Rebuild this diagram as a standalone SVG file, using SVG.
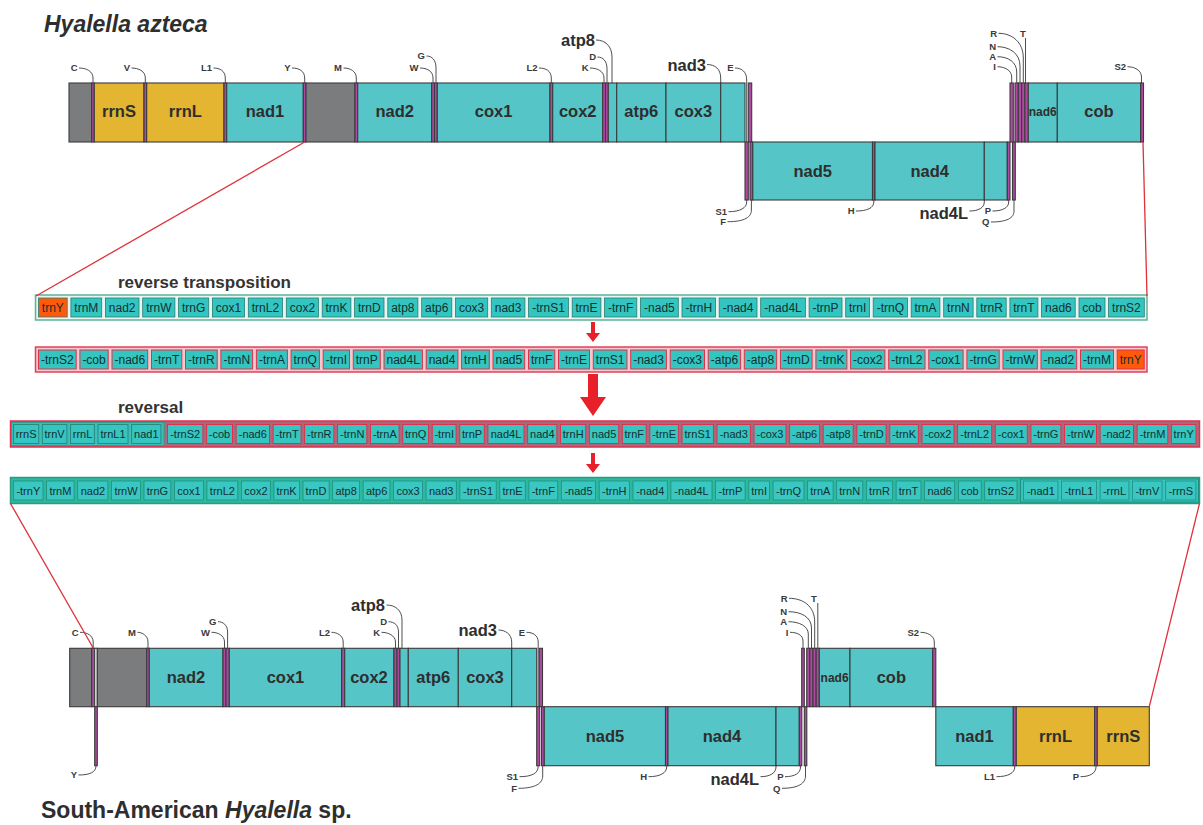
<svg xmlns="http://www.w3.org/2000/svg" width="1203" height="825" viewBox="0 0 1203 825">
<style>
text{font-family:"Liberation Sans",Arial,sans-serif;font-weight:bold}
.gm rect{stroke:#3b3b3b;stroke-width:1.1}
.teal{fill:#55c5c8}.yel{fill:#e3b531}.gry{fill:#7b7c7e}.trn{fill:#ad4aa2}.wht{fill:#fff}
.gl{font-size:16.5px;fill:#2e2e2e;text-anchor:middle}
.gs{font-size:12px;fill:#2e2e2e;text-anchor:middle}
.sl{font-size:9.5px;fill:#3a3a3a;text-anchor:end}
.sm{font-size:9.5px;fill:#3a3a3a;text-anchor:middle}
.bl{font-size:16.5px;fill:#2e2e2e;text-anchor:end}
.ld{fill:none;stroke:#3a3a3a;stroke-width:0.9}
.rl{stroke:#e0303a;stroke-width:1.3;fill:none}
.ar{fill:#e8202a}
.row text{font-weight:normal;font-size:12px;fill:#123030;text-anchor:middle}
.r34 text{font-size:11px}
.r1 rect{fill:#33c5c0;stroke:#2b7d75;stroke-width:0.8}
.r2 rect{fill:#33c5c0;stroke:#e0304c;stroke-width:1}
.r3 rect{fill:#36c5c0;stroke:#e0304c;stroke-width:1}
.r3 .tb{stroke:#2a8a80}
.r4 rect{fill:#3ac7c2;stroke:#1f8f80;stroke-width:0.8}
.r1 rect.or,.r2 rect.or{fill:#ff5a0a}
.title{font-size:23px;fill:#2e2e2e}
.hd{font-size:17px;fill:#333}
</style>

<text class="title" x="44" y="32" font-style="italic">Hyalella azteca</text>

<g id="top" class="gm">
<g id="t-nc1"><rect class="gry" x="69" y="83" width="22.7" height="59"/></g>
<g id="t-C"><rect class="trn" x="91.7" y="83" width="2.6" height="59"/><text class="sl" x="77.5" y="71.3">C</text></g>
<g id="t-rrnS"><rect class="yel" x="94.3" y="83" width="49.7" height="59"/><text class="gl" x="119" y="117">rrnS</text></g>
<g id="t-V"><rect class="trn" x="144" y="83" width="2.7" height="59"/><text class="sl" x="130" y="71.3">V</text></g>
<g id="t-rrnL"><rect class="yel" x="146.7" y="83" width="77.3" height="59"/><text class="gl" x="185.3" y="117">rrnL</text></g>
<g id="t-L1"><rect class="trn" x="224" y="83" width="2.7" height="59"/><text class="sl" x="212" y="71.3">L1</text></g>
<g id="t-nad1"><rect class="teal" x="226.7" y="83" width="76.6" height="59"/><text class="gl" x="265" y="117">nad1</text></g>
<g id="t-Y"><rect class="trn" x="303.3" y="83" width="2.7" height="59"/><text class="sl" x="290.5" y="71.3">Y</text></g>
<g id="t-nc2"><rect class="gry" x="306" y="83" width="49" height="59"/></g>
<g id="t-M"><rect class="trn" x="355" y="83" width="2.7" height="59"/><text class="sl" x="342" y="71.3">M</text></g>
<g id="t-nad2"><rect class="teal" x="357.7" y="83" width="74" height="59"/><text class="gl" x="394.7" y="117">nad2</text></g>
<g id="t-W"><rect class="trn" x="431.7" y="83" width="2.8" height="59"/><text class="sl" x="418.5" y="71.3">W</text></g>
<g id="t-G"><rect class="trn" x="434.5" y="83" width="2.8" height="59"/><text class="sl" x="425" y="59.3">G</text></g>
<g id="t-cox1"><rect class="teal" x="437.3" y="83" width="112.7" height="59"/><text class="gl" x="493.6" y="117">cox1</text></g>
<g id="t-L2"><rect class="trn" x="550" y="83" width="2.7" height="59"/><text class="sl" x="537.5" y="71.3">L2</text></g>
<g id="t-cox2"><rect class="teal" x="552.7" y="83" width="50" height="59"/><text class="gl" x="577.7" y="117">cox2</text></g>
<g id="t-K"><rect class="trn" x="602.7" y="83" width="2.8" height="59"/><text class="sl" x="588.5" y="71.3">K</text></g>
<g id="t-D"><rect class="trn" x="605.5" y="83" width="2.8" height="59"/><text class="sl" x="596" y="60.3">D</text></g>
<g id="t-atp8"><rect class="teal" x="608.3" y="83" width="8.4" height="59"/><text class="bl" x="595" y="46">atp8</text></g>
<g id="t-atp6"><rect class="teal" x="616.7" y="83" width="49.3" height="59"/><text class="gl" x="641.3" y="117">atp6</text></g>
<g id="t-cox3"><rect class="teal" x="666" y="83" width="54.7" height="59"/><text class="gl" x="693.3" y="117">cox3</text></g>
<g id="t-nad3"><rect class="teal" x="720.7" y="83" width="24.3" height="59"/><text class="bl" x="706" y="70.5">nad3</text></g>
<g id="t-E"><rect class="trn" x="748.3" y="83" width="3.4" height="59"/><text class="sl" x="733.5" y="71.3">E</text></g>
<g id="t-S1"><rect class="trn" x="745" y="142" width="3.3" height="58"/><text class="sl" x="727" y="215">S1</text></g>
<g id="t-F"><rect class="trn" x="750" y="142" width="2.8" height="58"/><text class="sl" x="726" y="225">F</text></g>
<g id="t-nad5"><rect class="teal" x="752.8" y="142" width="119.7" height="58"/><text class="gl" x="812.7" y="176.5">nad5</text></g>
<g id="t-H"><rect class="trn" x="872.5" y="142" width="2.5" height="58"/><text class="sl" x="854.5" y="214.3">H</text></g>
<g id="t-nad4"><rect class="teal" x="875" y="142" width="109.3" height="58"/><text class="gl" x="929.7" y="176.5">nad4</text></g>
<g id="t-nad4L"><rect class="teal" x="984.3" y="142" width="23" height="58"/><text class="bl" x="968" y="218.5">nad4L</text></g>
<g id="t-P"><rect class="trn" x="1007.3" y="142" width="2.7" height="58"/><text class="sl" x="991" y="214.3">P</text></g>
<g id="t-Q"><rect class="trn" x="1012.5" y="142" width="2.8" height="58"/><text class="sl" x="989.5" y="225.3">Q</text></g>
<g id="t-I"><rect class="trn" x="1010" y="83" width="3.3" height="59"/><text class="sl" x="996" y="70">I</text></g>
<g id="t-A"><rect class="trn" x="1015" y="83" width="3.3" height="59"/><text class="sl" x="996" y="60">A</text></g>
<g id="t-N"><rect class="trn" x="1018.3" y="83" width="3.3" height="59"/><text class="sl" x="996" y="50">N</text></g>
<g id="t-R"><rect class="trn" x="1021.6" y="83" width="3.3" height="59"/><text class="sl" x="997" y="36.6">R</text></g>
<g id="t-T"><rect class="trn" x="1024.9" y="83" width="3.4" height="59"/><text class="sm" x="1023" y="36.6">T</text></g>
<g id="t-nad6"><rect class="teal" x="1028.3" y="83" width="29" height="59"/><text class="gs" x="1042.8" y="115.5">nad6</text></g>
<g id="t-cob"><rect class="teal" x="1057.3" y="83" width="83.4" height="59"/><text class="gl" x="1099" y="117">cob</text></g>
<g id="t-S2"><rect class="trn" x="1140.7" y="83" width="2.8" height="59"/><text class="sl" x="1126" y="70">S2</text></g>
</g>

<text class="hd" x="118" y="288">reverse transposition</text>
<text class="hd" x="118" y="413">reversal</text>

<g id="row1" class="row r1">
<rect x="35.5" y="295" width="1111.5" height="25" style="fill:#eaf5f1;stroke:#58b595;stroke-width:1.5"/>
<g id="r1b1"><rect class="or" x="38.5" y="298" width="28.7" height="19"/><text x="52.85" y="311.7">trnY</text></g>
<g id="r1b2"><rect x="70.9" y="298" width="30.8" height="19"/><text x="86.3" y="311.7">trnM</text></g>
<g id="r1b3"><rect x="105.4" y="298" width="33.6" height="19"/><text x="122.2" y="311.7">nad2</text></g>
<g id="r1b4"><rect x="142.7" y="298" width="32.2" height="19"/><text x="158.8" y="311.7">trnW</text></g>
<g id="r1b5"><rect x="178.6" y="298" width="30.1" height="19"/><text x="193.65" y="311.7">trnG</text></g>
<g id="r1b6"><rect x="212.4" y="298" width="32.2" height="19"/><text x="228.5" y="311.7">cox1</text></g>
<g id="r1b7"><rect x="248.3" y="298" width="34.3" height="19"/><text x="265.45" y="311.7">trnL2</text></g>
<g id="r1b8"><rect x="286.3" y="298" width="32.2" height="19"/><text x="302.4" y="311.7">cox2</text></g>
<g id="r1b9"><rect x="322.2" y="298" width="28.7" height="19"/><text x="336.55" y="311.7">trnK</text></g>
<g id="r1b10"><rect x="354.6" y="298" width="29.4" height="19"/><text x="369.3" y="311.7">trnD</text></g>
<g id="r1b11"><rect x="387.8" y="298" width="30.1" height="19"/><text x="402.85" y="311.7">atp8</text></g>
<g id="r1b12"><rect x="421.7" y="298" width="30.1" height="19"/><text x="436.75" y="311.7">atp6</text></g>
<g id="r1b13"><rect x="455.5" y="298" width="32.2" height="19"/><text x="471.6" y="311.7">cox3</text></g>
<g id="r1b14"><rect x="491.3" y="298" width="33.6" height="19"/><text x="508.1" y="311.7">nad3</text></g>
<g id="r1b15"><rect x="528.6" y="298" width="39.8" height="19"/><text x="548.5" y="311.7">-trnS1</text></g>
<g id="r1b16"><rect x="572.2" y="298" width="28.7" height="19"/><text x="586.55" y="311.7">trnE</text></g>
<g id="r1b17"><rect x="604.6" y="298" width="32.2" height="19"/><text x="620.7" y="311.7">-trnF</text></g>
<g id="r1b18"><rect x="640.5" y="298" width="37.8" height="19"/><text x="659.4" y="311.7">-nad5</text></g>
<g id="r1b19"><rect x="682" y="298" width="33.6" height="19"/><text x="698.8" y="311.7">-trnH</text></g>
<g id="r1b20"><rect x="719.2" y="298" width="37.8" height="19"/><text x="738.1" y="311.7">-nad4</text></g>
<g id="r1b21"><rect x="760.7" y="298" width="44.7" height="19"/><text x="783.05" y="311.7">-nad4L</text></g>
<g id="r1b22"><rect x="809.1" y="298" width="32.9" height="19"/><text x="825.55" y="311.7">-trnP</text></g>
<g id="r1b23"><rect x="845.7" y="298" width="23.9" height="19"/><text x="857.65" y="311.7">trnI</text></g>
<g id="r1b24"><rect x="873.2" y="298" width="34.3" height="19"/><text x="890.35" y="311.7">-trnQ</text></g>
<g id="r1b25"><rect x="911.2" y="298" width="28.7" height="19"/><text x="925.55" y="311.7">trnA</text></g>
<g id="r1b26"><rect x="943.7" y="298" width="29.4" height="19"/><text x="958.4" y="311.7">trnN</text></g>
<g id="r1b27"><rect x="976.8" y="298" width="29.4" height="19"/><text x="991.5" y="311.7">trnR</text></g>
<g id="r1b28"><rect x="1009.9" y="298" width="28" height="19"/><text x="1023.9" y="311.7">trnT</text></g>
<g id="r1b29"><rect x="1041.6" y="298" width="33.6" height="19"/><text x="1058.4" y="311.7">nad6</text></g>
<g id="r1b30"><rect x="1079" y="298" width="26" height="19"/><text x="1092" y="311.7">cob</text></g>
<g id="r1b31"><rect x="1108.6" y="298" width="35.7" height="19"/><text x="1126.45" y="311.7">trnS2</text></g>
</g>

<g id="row2" class="row r2">
<rect x="35.5" y="347" width="1111.5" height="25" style="fill:#f5c8ce;stroke:#e2405a;stroke-width:1.5"/>
<g id="r2b1"><rect x="38.5" y="350" width="37.7" height="19"/><text x="57.35" y="363.7">-trnS2</text></g>
<g id="r2b2"><rect x="79.9" y="350" width="28.3" height="19"/><text x="94.05" y="363.7">-cob</text></g>
<g id="r2b3"><rect x="112" y="350" width="35.7" height="19"/><text x="129.85" y="363.7">-nad6</text></g>
<g id="r2b4"><rect x="151.5" y="350" width="30.3" height="19"/><text x="166.65" y="363.7">-trnT</text></g>
<g id="r2b5"><rect x="185.5" y="350" width="31.7" height="19"/><text x="201.35" y="363.7">-trnR</text></g>
<g id="r2b6"><rect x="220.9" y="350" width="31.7" height="19"/><text x="236.75" y="363.7">-trnN</text></g>
<g id="r2b7"><rect x="256.4" y="350" width="31" height="19"/><text x="271.9" y="363.7">-trnA</text></g>
<g id="r2b8"><rect x="291.1" y="350" width="28.3" height="19"/><text x="305.25" y="363.7">trnQ</text></g>
<g id="r2b9"><rect x="323.2" y="350" width="26.3" height="19"/><text x="336.35" y="363.7">-trnI</text></g>
<g id="r2b10"><rect x="353.3" y="350" width="27" height="19"/><text x="366.8" y="363.7">trnP</text></g>
<g id="r2b11"><rect x="384" y="350" width="38.4" height="19"/><text x="403.2" y="363.7">nad4L</text></g>
<g id="r2b12"><rect x="426.2" y="350" width="31.7" height="19"/><text x="442.05" y="363.7">nad4</text></g>
<g id="r2b13"><rect x="461.6" y="350" width="27.7" height="19"/><text x="475.45" y="363.7">trnH</text></g>
<g id="r2b14"><rect x="493" y="350" width="31.7" height="19"/><text x="508.85" y="363.7">nad5</text></g>
<g id="r2b15"><rect x="528.5" y="350" width="26.3" height="19"/><text x="541.65" y="363.7">trnF</text></g>
<g id="r2b16"><rect x="558.5" y="350" width="31" height="19"/><text x="574" y="363.7">-trnE</text></g>
<g id="r2b17"><rect x="593.3" y="350" width="33.7" height="19"/><text x="610.15" y="363.7">trnS1</text></g>
<g id="r2b18"><rect x="630.7" y="350" width="35.7" height="19"/><text x="648.55" y="363.7">-nad3</text></g>
<g id="r2b19"><rect x="670.2" y="350" width="34.3" height="19"/><text x="687.35" y="363.7">-cox3</text></g>
<g id="r2b20"><rect x="708.2" y="350" width="32.4" height="19"/><text x="724.4" y="363.7">-atp6</text></g>
<g id="r2b21"><rect x="744.3" y="350" width="32.4" height="19"/><text x="760.5" y="363.7">-atp8</text></g>
<g id="r2b22"><rect x="780.4" y="350" width="31.7" height="19"/><text x="796.25" y="363.7">-trnD</text></g>
<g id="r2b23"><rect x="815.9" y="350" width="31" height="19"/><text x="831.4" y="363.7">-trnK</text></g>
<g id="r2b24"><rect x="850.6" y="350" width="34.3" height="19"/><text x="867.75" y="363.7">-cox2</text></g>
<g id="r2b25"><rect x="888.7" y="350" width="36.3" height="19"/><text x="906.85" y="363.7">-trnL2</text></g>
<g id="r2b26"><rect x="928.8" y="350" width="34.3" height="19"/><text x="945.95" y="363.7">-cox1</text></g>
<g id="r2b27"><rect x="966.9" y="350" width="32.3" height="19"/><text x="983.05" y="363.7">-trnG</text></g>
<g id="r2b28"><rect x="1003" y="350" width="34.3" height="19"/><text x="1020.15" y="363.7">-trnW</text></g>
<g id="r2b29"><rect x="1041" y="350" width="35.7" height="19"/><text x="1058.85" y="363.7">-nad2</text></g>
<g id="r2b30"><rect x="1080.5" y="350" width="33" height="19"/><text x="1097" y="363.7">-trnM</text></g>
<g id="r2b31"><rect class="or" x="1117.2" y="350" width="27" height="19"/><text x="1130.7" y="363.7">trnY</text></g>
</g>

<g id="row3" class="row r3 r34">
<rect x="10.5" y="421" width="1189" height="26" style="fill:#a8697c;stroke:#e0304c;stroke-width:1.5"/>
<rect x="11.5" y="422.5" width="152.5" height="23" style="fill:#3cbfb8;stroke:#2aa090;stroke-width:1"/>
<g id="r3b1"><rect class="tb" x="13.5" y="424.5" width="25.25" height="19"/><text x="26.1" y="438">rrnS</text></g>
<g id="r3b2"><rect class="tb" x="42.35" y="424.5" width="24.57" height="19"/><text x="54.6" y="438">trnV</text></g>
<g id="r3b3"><rect class="tb" x="70.52" y="424.5" width="23.89" height="19"/><text x="82.5" y="438">rrnL</text></g>
<g id="r3b4"><rect class="tb" x="98" y="424.5" width="30" height="19"/><text x="113" y="438">trnL1</text></g>
<g id="r3b5"><rect class="tb" x="131.6" y="424.5" width="29.33" height="19"/><text x="146.3" y="438">nad1</text></g>
<g id="r3b6"><rect x="167.5" y="424.5" width="35.4" height="19"/><text x="185.2" y="438">-trnS2</text></g>
<g id="r3b7"><rect x="206.6" y="424.5" width="25.9" height="19"/><text x="219.5" y="438">-cob</text></g>
<g id="r3b8"><rect x="236.1" y="424.5" width="33.4" height="19"/><text x="252.8" y="438">-nad6</text></g>
<g id="r3b9"><rect x="273.1" y="424.5" width="27.95" height="19"/><text x="287.1" y="438">-trnT</text></g>
<g id="r3b10"><rect x="304.6" y="424.5" width="29.3" height="19"/><text x="319.3" y="438">-trnR</text></g>
<g id="r3b11"><rect x="337.55" y="424.5" width="29.3" height="19"/><text x="352.2" y="438">-trnN</text></g>
<g id="r3b12"><rect x="370.5" y="424.5" width="28.6" height="19"/><text x="384.8" y="438">-trnA</text></g>
<g id="r3b13"><rect x="402.7" y="424.5" width="25.9" height="19"/><text x="415.7" y="438">trnQ</text></g>
<g id="r3b14"><rect x="432.2" y="424.5" width="23.9" height="19"/><text x="444.2" y="438">-trnI</text></g>
<g id="r3b15"><rect x="459.7" y="424.5" width="24.6" height="19"/><text x="472" y="438">trnP</text></g>
<g id="r3b16"><rect x="487.9" y="424.5" width="36.1" height="19"/><text x="506" y="438">nad4L</text></g>
<g id="r3b17"><rect x="527.6" y="424.5" width="29.3" height="19"/><text x="542.3" y="438">nad4</text></g>
<g id="r3b18"><rect x="560.5" y="424.5" width="25.25" height="19"/><text x="573.2" y="438">trnH</text></g>
<g id="r3b19"><rect x="589.4" y="424.5" width="29.3" height="19"/><text x="604.1" y="438">nad5</text></g>
<g id="r3b20"><rect x="622.3" y="424.5" width="23.9" height="19"/><text x="634.3" y="438">trnF</text></g>
<g id="r3b21"><rect x="649.8" y="424.5" width="28.6" height="19"/><text x="664.1" y="438">-trnE</text></g>
<g id="r3b22"><rect x="682.05" y="424.5" width="31.4" height="19"/><text x="697.7" y="438">trnS1</text></g>
<g id="r3b23"><rect x="717" y="424.5" width="33.4" height="19"/><text x="733.7" y="438">-nad3</text></g>
<g id="r3b24"><rect x="754" y="424.5" width="32" height="19"/><text x="770" y="438">-cox3</text></g>
<g id="r3b25"><rect x="789.6" y="424.5" width="30" height="19"/><text x="804.6" y="438">-atp6</text></g>
<g id="r3b26"><rect x="823.2" y="424.5" width="30" height="19"/><text x="838.2" y="438">-atp8</text></g>
<g id="r3b27"><rect x="856.8" y="424.5" width="29.3" height="19"/><text x="871.5" y="438">-trnD</text></g>
<g id="r3b28"><rect x="889.75" y="424.5" width="28.6" height="19"/><text x="904.1" y="438">-trnK</text></g>
<g id="r3b29"><rect x="922" y="424.5" width="32" height="19"/><text x="938" y="438">-cox2</text></g>
<g id="r3b30"><rect x="957.6" y="424.5" width="34.1" height="19"/><text x="974.7" y="438">-trnL2</text></g>
<g id="r3b31"><rect x="995.3" y="424.5" width="32" height="19"/><text x="1011.3" y="438">-cox1</text></g>
<g id="r3b32"><rect x="1030.9" y="424.5" width="30" height="19"/><text x="1045.9" y="438">-trnG</text></g>
<g id="r3b33"><rect x="1064.5" y="424.5" width="32" height="19"/><text x="1080.5" y="438">-trnW</text></g>
<g id="r3b34"><rect x="1100.1" y="424.5" width="33.4" height="19"/><text x="1116.8" y="438">-nad2</text></g>
<g id="r3b35"><rect x="1137.1" y="424.5" width="30.7" height="19"/><text x="1152.5" y="438">-trnM</text></g>
<g id="r3b36"><rect x="1171.4" y="424.5" width="24.6" height="19"/><text x="1183.7" y="438">trnY</text></g>
</g>

<g id="row4" class="row r4 r34">
<rect x="10.5" y="477.5" width="1189" height="26" style="fill:#2db89f;stroke:#2a9a80;stroke-width:1.5"/>
<rect x="1020.5" y="479" width="178" height="23" style="fill:#38c4bc;stroke:#1e8f80;stroke-width:1"/>
<g id="r4b1"><rect x="13.5" y="481" width="29.5" height="19"/><text x="28.3" y="494.5">-trnY</text></g>
<g id="r4b2"><rect x="46.6" y="481" width="27.5" height="19"/><text x="60.4" y="494.5">trnM</text></g>
<g id="r4b3"><rect x="77.7" y="481" width="30.2" height="19"/><text x="92.9" y="494.5">nad2</text></g>
<g id="r4b4"><rect x="111.6" y="481" width="28.85" height="19"/><text x="126" y="494.5">trnW</text></g>
<g id="r4b5"><rect x="144" y="481" width="26.8" height="19"/><text x="157.4" y="494.5">trnG</text></g>
<g id="r4b6"><rect x="174.45" y="481" width="28.9" height="19"/><text x="188.9" y="494.5">cox1</text></g>
<g id="r4b7"><rect x="206.9" y="481" width="30.9" height="19"/><text x="222.4" y="494.5">trnL2</text></g>
<g id="r4b8"><rect x="241.4" y="481" width="28.9" height="19"/><text x="255.9" y="494.5">cox2</text></g>
<g id="r4b9"><rect x="273.9" y="481" width="25.5" height="19"/><text x="286.6" y="494.5">trnK</text></g>
<g id="r4b10"><rect x="303" y="481" width="26.15" height="19"/><text x="316" y="494.5">trnD</text></g>
<g id="r4b11"><rect x="332.7" y="481" width="26.8" height="19"/><text x="346.1" y="494.5">atp8</text></g>
<g id="r4b12"><rect x="363.15" y="481" width="26.8" height="19"/><text x="376.6" y="494.5">atp6</text></g>
<g id="r4b13"><rect x="393.6" y="481" width="28.9" height="19"/><text x="408" y="494.5">cox3</text></g>
<g id="r4b14"><rect x="426.1" y="481" width="30.2" height="19"/><text x="441.2" y="494.5">nad3</text></g>
<g id="r4b15"><rect x="459.9" y="481" width="36.3" height="19"/><text x="478.05" y="494.5">-trnS1</text></g>
<g id="r4b16"><rect x="499.8" y="481" width="25.5" height="19"/><text x="512.5" y="494.5">trnE</text></g>
<g id="r4b17"><rect x="528.9" y="481" width="28.85" height="19"/><text x="543.3" y="494.5">-trnF</text></g>
<g id="r4b18"><rect x="561.3" y="481" width="34.3" height="19"/><text x="578.5" y="494.5">-nad5</text></g>
<g id="r4b19"><rect x="599.2" y="481" width="30.2" height="19"/><text x="614.3" y="494.5">-trnH</text></g>
<g id="r4b20"><rect x="633" y="481" width="34.3" height="19"/><text x="650.2" y="494.5">-nad4</text></g>
<g id="r4b21"><rect x="670.9" y="481" width="41.1" height="19"/><text x="691.5" y="494.5">-nad4L</text></g>
<g id="r4b22"><rect x="715.6" y="481" width="29.5" height="19"/><text x="730.4" y="494.5">-trnP</text></g>
<g id="r4b23"><rect x="748.8" y="481" width="20.7" height="19"/><text x="759.1" y="494.5">trnI</text></g>
<g id="r4b24"><rect x="773.1" y="481" width="30.9" height="19"/><text x="788.5" y="494.5">-trnQ</text></g>
<g id="r4b25"><rect x="807.6" y="481" width="25.5" height="19"/><text x="820.3" y="494.5">trnA</text></g>
<g id="r4b26"><rect x="836.65" y="481" width="26.15" height="19"/><text x="849.7" y="494.5">trnN</text></g>
<g id="r4b27"><rect x="866.4" y="481" width="26.15" height="19"/><text x="879.5" y="494.5">trnR</text></g>
<g id="r4b28"><rect x="896.15" y="481" width="24.8" height="19"/><text x="908.55" y="494.5">trnT</text></g>
<g id="r4b29"><rect x="924.5" y="481" width="30.2" height="19"/><text x="939.7" y="494.5">nad6</text></g>
<g id="r4b30"><rect x="958.4" y="481" width="22.8" height="19"/><text x="969.8" y="494.5">cob</text></g>
<g id="r4b31"><rect x="984.7" y="481" width="32.3" height="19"/><text x="1000.9" y="494.5">trnS2</text></g>
<g id="r4b32"><rect x="1023.6" y="481" width="34.3" height="19"/><text x="1040.75" y="494.5">-nad1</text></g>
<g id="r4b33"><rect x="1061.5" y="481" width="35" height="19"/><text x="1079" y="494.5">-trnL1</text></g>
<g id="r4b34"><rect x="1100.1" y="481" width="28.85" height="19"/><text x="1114.5" y="494.5">-rrnL</text></g>
<g id="r4b35"><rect x="1132.5" y="481" width="29.5" height="19"/><text x="1147.3" y="494.5">-trnV</text></g>
<g id="r4b36"><rect x="1165.7" y="481" width="30.2" height="19"/><text x="1180.8" y="494.5">-rrnS</text></g>
</g>

<g id="bottom" class="gm">
<g id="b-nc1"><rect class="gry" x="69.7" y="648.3" width="22" height="58.4"/></g>
<g id="b-C"><rect class="trn" x="91.7" y="648.3" width="3" height="58.4"/><text class="sl" x="78.5" y="635.6">C</text></g>
<g id="b-gap"><rect class="wht" x="94.7" y="648.3" width="2.6" height="58.4"/></g>
<g id="b-nc2"><rect class="gry" x="97.3" y="648.3" width="49.4" height="58.4"/></g>
<g id="b-M"><rect class="trn" x="146.7" y="648.3" width="2.6" height="58.4"/><text class="sl" x="136" y="635.6">M</text></g>
<g id="b-nad2"><rect class="teal" x="149.3" y="648.3" width="73.7" height="58.4"/><text class="gl" x="186" y="683">nad2</text></g>
<g id="b-W"><rect class="trn" x="223" y="648.3" width="3" height="58.4"/><text class="sl" x="210" y="635.6">W</text></g>
<g id="b-G"><rect class="trn" x="226" y="648.3" width="3.3" height="58.4"/><text class="sl" x="216.5" y="625">G</text></g>
<g id="b-cox1"><rect class="teal" x="229.3" y="648.3" width="112.4" height="58.4"/><text class="gl" x="285.5" y="683">cox1</text></g>
<g id="b-L2"><rect class="trn" x="341.7" y="648.3" width="3" height="58.4"/><text class="sl" x="330" y="635.6">L2</text></g>
<g id="b-cox2"><rect class="teal" x="344.7" y="648.3" width="49.3" height="58.4"/><text class="gl" x="369" y="683">cox2</text></g>
<g id="b-K"><rect class="trn" x="394" y="648.3" width="3" height="58.4"/><text class="sl" x="380" y="635.6">K</text></g>
<g id="b-D"><rect class="trn" x="397" y="648.3" width="3" height="58.4"/><text class="sl" x="387" y="625">D</text></g>
<g id="b-atp8"><rect class="teal" x="400" y="648.3" width="8.3" height="58.4"/><text class="bl" x="385" y="611">atp8</text></g>
<g id="b-atp6"><rect class="teal" x="408.3" y="648.3" width="50" height="58.4"/><text class="gl" x="433.3" y="683">atp6</text></g>
<g id="b-cox3"><rect class="teal" x="458.3" y="648.3" width="53.4" height="58.4"/><text class="gl" x="485" y="683">cox3</text></g>
<g id="b-nad3"><rect class="teal" x="511.7" y="648.3" width="25" height="58.4"/><text class="bl" x="497" y="636">nad3</text></g>
<g id="b-E"><rect class="trn" x="539.3" y="648.3" width="3.2" height="58.4"/><text class="sl" x="525" y="635.6">E</text></g>
<g id="b-Y"><rect class="trn" x="94.7" y="706.7" width="2.6" height="59"/><text class="sl" x="77" y="778.3">Y</text></g>
<g id="b-S1"><rect class="trn" x="536.7" y="706.7" width="3" height="59"/><text class="sl" x="518" y="780">S1</text></g>
<g id="b-F"><rect class="trn" x="541.5" y="706.7" width="2.8" height="59"/><text class="sl" x="517" y="791.6">F</text></g>
<g id="b-nad5"><rect class="teal" x="544.3" y="706.7" width="121.2" height="59"/><text class="gl" x="605" y="742">nad5</text></g>
<g id="b-H"><rect class="trn" x="665.5" y="706.7" width="2.5" height="59"/><text class="sl" x="647" y="780">H</text></g>
<g id="b-nad4"><rect class="teal" x="668" y="706.7" width="108" height="59"/><text class="gl" x="722" y="742">nad4</text></g>
<g id="b-nad4L"><rect class="teal" x="776" y="706.7" width="23.3" height="59"/><text class="bl" x="759" y="784.5">nad4L</text></g>
<g id="b-P"><rect class="trn" x="799.3" y="706.7" width="2.5" height="59"/><text class="sl" x="783.5" y="780">P</text></g>
<g id="b-Q"><rect class="trn" x="804.3" y="706.7" width="2.5" height="59"/><text class="sl" x="780.5" y="791.6">Q</text></g>
<g id="b-I"><rect class="trn" x="801.7" y="648.3" width="2.6" height="58.4"/><text class="sl" x="788.5" y="635.6">I</text></g>
<g id="b-A"><rect class="trn" x="806.7" y="648.3" width="3.15" height="58.4"/><text class="sl" x="787" y="625">A</text></g>
<g id="b-N"><rect class="trn" x="809.85" y="648.3" width="3.15" height="58.4"/><text class="sl" x="787" y="615">N</text></g>
<g id="b-R"><rect class="trn" x="813" y="648.3" width="3.15" height="58.4"/><text class="sl" x="787.5" y="601.6">R</text></g>
<g id="b-T"><rect class="trn" x="816.15" y="648.3" width="3.15" height="58.4"/><text class="sm" x="814" y="601.6">T</text></g>
<g id="b-nad6"><rect class="teal" x="819.3" y="648.3" width="30.7" height="58.4"/><text class="gs" x="834.6" y="681.5">nad6</text></g>
<g id="b-cob"><rect class="teal" x="850" y="648.3" width="82.7" height="58.4"/><text class="gl" x="891.3" y="683">cob</text></g>
<g id="b-S2"><rect class="trn" x="932.7" y="648.3" width="3.1" height="58.4"/><text class="sl" x="919" y="635.6">S2</text></g>
<g id="b-nad1"><rect class="teal" x="935.8" y="706.7" width="77.5" height="59"/><text class="gl" x="974.5" y="742">nad1</text></g>
<g id="b-L1"><rect class="trn" x="1013.3" y="706.7" width="3" height="59"/><text class="sl" x="995" y="780">L1</text></g>
<g id="b-rrnL"><rect class="yel" x="1016.3" y="706.7" width="78.4" height="59"/><text class="gl" x="1055.5" y="742">rrnL</text></g>
<g id="b-P2"><rect class="trn" x="1094.7" y="706.7" width="2.6" height="59"/><text class="sl" x="1079" y="780">P</text></g>
<g id="b-rrnS"><rect class="yel" x="1097.3" y="706.7" width="52" height="59"/><text class="gl" x="1123.3" y="742">rrnS</text></g>
</g>

<text class="title" x="41" y="818">South-American <tspan font-style="italic">Hyalella</tspan> sp.</text>

<g id="connectors">
<g class="ld">
<path d="M79,68 C86,68 93,71 93,78 V83"/>
<path d="M131.5,68 C138.5,68 145.3,71 145.3,78 V83"/>
<path d="M213.5,68 C220,68 225.3,71 225.3,78 V83"/>
<path d="M292,68 C299,68 304.7,71 304.7,78 V83"/>
<path d="M343.5,68 C350,68 356.3,71 356.3,78 V83"/>
<path d="M420,68 C427,68 433,71 433,78 V83"/>
<path d="M426.5,56 C432,56 436,60 436,68 V83"/>
<path d="M539,68 C546,68 551.3,71 551.3,78 V83"/>
<path d="M590,68 C597,68 604,71 604,78 V83"/>
<path d="M597.5,57 C603,57 607,61 607,69 V83"/>
<path d="M596,40 C605,40 612,46 612,57 V83"/>
<path d="M707,64.5 C715,64.5 720.7,69 720.7,78 V83"/>
<path d="M735,68 C742,68 746.7,72 746.7,80 V142"/>
<path d="M998.5,33.3 C1012,33.3 1023.3,42 1023.3,58 V83"/>
<path d="M997.5,46.7 C1009,46.7 1020,53 1020,66 V83"/>
<path d="M997.5,56.7 C1008,56.7 1016.7,62 1016.7,72 V83"/>
<path d="M997.5,66.7 C1004,66.7 1011.7,70 1011.7,77 V83"/>
<path d="M1025.5,38 V83"/>
<path d="M1127.5,66.7 C1134,66.7 1141.5,70 1141.5,77 V83"/>
<path d="M746.7,200 V202 C746.7,208 740,211.7 728.5,211.7"/>
<path d="M751.4,200 V210 C751.4,217 745,221.7 727.5,221.7"/>
<path d="M873.8,200 V202 C873.8,208 867,211 856,211"/>
<path d="M984.3,200 V202 C984.3,208 978,211 969.5,211"/>
<path d="M1008.7,200 V202 C1008.7,208 1002,211 992.5,211"/>
<path d="M1014,200 V211 C1014,218 1007,222 991,222"/>
<path d="M80,632.3 C87,632.3 93.2,635.5 93.2,642 V648.3"/>
<path d="M137.5,632.3 C142,632.3 148,635.5 148,642 V648.3"/>
<path d="M211.5,632.3 C218,632.3 224.5,635.5 224.5,642 V648.3"/>
<path d="M218,621.7 C223,621.7 227.6,625 227.6,632 V648.3"/>
<path d="M331.5,632.3 C337,632.3 343.2,635.5 343.2,642 V648.3"/>
<path d="M381.5,632.3 C388,632.3 395.5,635.5 395.5,642 V648.3"/>
<path d="M388.5,621.7 C394,621.7 398.5,625 398.5,632 V648.3"/>
<path d="M386.5,605 C395,605 402,610 402,620 V648.3"/>
<path d="M498.5,630 C505,630 511.7,634 511.7,642 V648.3"/>
<path d="M526.5,632.3 C533,632.3 538.2,635.5 538.2,642 V706.7"/>
<path d="M789,598.3 C803,598.3 814.7,606 814.7,622 V648.3"/>
<path d="M788.5,611.7 C801,611.7 811.5,617 811.5,628 V648.3"/>
<path d="M788.5,621.7 C799,621.7 808.3,626 808.3,634 V648.3"/>
<path d="M790,632.3 C797,632.3 803,635 803,641 V648.3"/>
<path d="M817.8,603 V648.3"/>
<path d="M920.5,632.3 C927,632.3 934.3,635.5 934.3,642 V648.3"/>
<path d="M538.1,765.7 V767 C538.1,773 532,776.7 519.5,776.7"/>
<path d="M542.7,765.7 V776 C542.7,783 536,788.3 518.5,788.3"/>
<path d="M666.7,765.7 V767 C666.7,773 660,776.7 648.5,776.7"/>
<path d="M776,765.7 V767 C776,773 770,776.7 760.5,776.7"/>
<path d="M800.5,765.7 V767 C800.5,773 795,776.7 785,776.7"/>
<path d="M805.5,765.7 V776 C805.5,783 799,788.3 782,788.3"/>
<path d="M96,765.7 V766 C96,772 90,775 78.5,775"/>
<path d="M1014.8,765.7 V767 C1014.8,773 1008,776.7 996.5,776.7"/>
<path d="M1096,765.7 V767 C1096,773 1090,776.7 1080.5,776.7"/>
</g>
<g class="rl">
<path d="M304.7,142 L36,296"/>
<path d="M1143,142 L1147,296"/>
<path d="M10.5,503.5 L93.2,648"/>
<path d="M1199.5,503.5 L1149.3,706.7"/>
</g>
<path class="ar" d="M591,322 H595 V333 H600 L593,342 L586,333 H591 Z"/>
<path class="ar" d="M588,374 H598 V397 H606 L593,416 L580,397 H588 Z"/>
<path class="ar" d="M591,453 H595 V464 H600 L593,473 L586,464 H591 Z"/>
</g>
</svg>
